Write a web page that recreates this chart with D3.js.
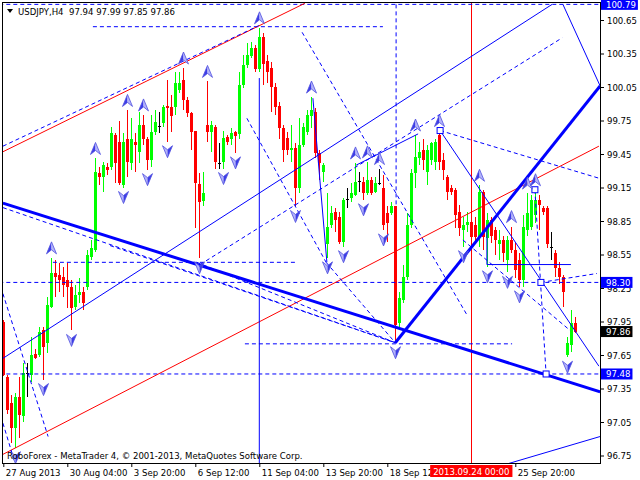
<!DOCTYPE html>
<html><head><meta charset="utf-8">
<script src="https://cdn.jsdelivr.net/npm/d3@7"></script>
<style>
body{margin:0;background:#fff;}
svg{display:block;}
text{font-family:"DejaVu Sans Condensed","Liberation Sans",sans-serif;font-size:9.5px;white-space:pre;}
</style></head><body>
<svg id="c" width="640" height="480"></svg>
<script>
// ---------- DATA ----------
const symbolTitle = "USDJPY,H4  97.94 97.99 97.85 97.86";
const copyright = "RoboForex - MetaTrader 4, \u00a9 2001-2013, MetaQuotes Software Corp.";
const opens = [97.95,97.45,97.22,97.00,97.27,97.10,97.49,97.47,97.66,97.65,
97.87,97.76,98.08,98.38,98.37,98.35,98.32,98.26,98.08,98.19,
98.21,98.26,98.53,98.59,99.28,99.24,99.33,99.33,99.62,99.56,
99.17,99.58,99.37,99.56,99.47,99.71,99.58,99.40,99.65,99.70,
99.73,99.88,99.87,99.87,100.02,100.11,99.93,99.82,99.66,99.18,
99.03,99.71,99.65,99.69,99.37,99.38,99.60,99.58,99.65,99.63,
100.07,100.25,100.33,100.40,100.21,100.50,100.28,100.22,100.05,99.88,
99.68,99.59,99.49,99.50,99.15,99.53,99.65,99.79,99.83,99.46,
99.29,98.64,98.81,98.93,98.89,98.66,99.05,99.06,99.08,99.21,
99.20,99.10,99.22,99.11,99.19,99.15,98.92,98.92,98.98,97.94,
98.14,98.35,98.81,99.28,99.41,99.49,99.29,99.40,99.38,99.62,
99.40,99.24,99.15,99.13,98.93,98.77,98.81,98.84,98.81,98.71,
99.11,98.70,98.86,98.77,98.64,98.68,98.50,98.68,98.59,98.50,
98.32,98.77,98.80,98.90,99.04,98.97,98.97,98.62,98.56,98.43,
98.35,97.65,97.74,97.94];
const highs = [97.96,97.47,97.29,97.31,97.45,97.58,97.58,97.81,97.70,97.90,
97.90,98.17,98.52,98.50,98.47,98.44,98.47,98.32,98.28,98.34,
98.26,98.59,98.68,99.41,99.33,99.38,99.37,99.69,99.64,99.75,
99.64,99.84,99.77,99.64,99.83,99.80,99.60,99.80,99.84,99.83,
99.89,100.11,99.98,100.18,100.18,100.22,99.96,99.83,99.66,99.28,
99.29,100.10,99.75,99.71,99.55,99.66,99.62,99.68,99.66,100.18,
100.34,100.44,100.45,100.43,100.58,100.53,100.34,100.27,100.09,99.92,
99.71,99.65,99.71,99.55,99.77,99.73,99.84,99.96,99.86,99.49,
99.37,99.10,98.98,98.97,98.93,99.06,99.15,99.19,99.37,99.29,
99.24,99.38,99.24,99.24,99.32,99.26,98.98,99.02,98.98,98.21,
98.46,98.92,99.32,99.62,99.56,99.58,99.53,99.56,99.58,99.66,
99.46,99.26,99.17,99.15,98.99,98.89,98.93,98.90,98.89,99.17,
99.13,98.92,98.89,98.80,98.77,98.72,98.72,98.80,98.65,98.56,
98.90,99.10,99.08,99.13,99.08,98.98,98.98,98.75,98.59,98.48,
98.37,97.81,98.05,97.99];
const lows = [97.46,97.12,96.86,96.82,96.91,97.05,97.27,97.41,97.61,97.63,
97.43,97.67,98.07,98.17,98.21,98.17,98.07,97.87,98.05,98.12,
98.05,98.23,98.50,98.57,99.17,99.11,99.26,99.31,99.19,99.17,
99.15,99.24,99.31,99.29,99.37,99.53,99.31,99.33,99.62,99.64,
99.69,99.56,99.65,99.80,100.00,99.84,99.78,99.49,98.79,98.52,
98.98,99.56,99.47,99.32,99.32,99.32,99.53,99.53,99.46,99.58,
100.04,100.22,100.31,100.18,100.18,100.07,100.09,99.83,99.80,99.58,
99.38,99.44,99.38,98.98,99.10,99.51,99.62,99.68,99.41,99.22,
99.20,98.52,98.79,98.75,98.64,98.62,98.97,99.02,99.07,99.11,
99.04,99.08,99.08,99.10,99.17,98.77,98.66,98.90,97.76,97.89,
98.12,98.32,98.79,99.15,99.35,99.31,99.17,99.35,99.31,99.31,
99.22,99.04,99.08,98.79,98.72,98.62,98.75,98.68,98.65,98.62,
98.59,98.44,98.65,98.55,98.50,98.48,98.39,98.56,98.34,98.26,
98.26,98.72,98.77,98.83,98.77,98.90,98.61,98.50,98.35,98.29,
98.08,97.63,97.68,97.85];
const closes = [97.47,97.16,97.00,97.27,97.11,97.49,97.49,97.65,97.62,97.86,
97.72,98.10,98.38,98.35,98.32,98.28,98.26,98.07,98.19,98.21,
98.12,98.55,98.61,99.29,99.24,99.35,99.31,99.64,99.37,99.19,
99.56,99.38,99.58,99.53,99.71,99.58,99.40,99.65,99.74,99.70,
99.87,99.86,99.79,100.09,100.09,99.93,99.82,99.65,99.19,99.02,
99.10,99.65,99.71,99.38,99.37,99.59,99.56,99.64,99.61,100.07,
100.25,100.34,100.40,100.21,100.50,100.26,100.18,100.05,99.87,99.68,
99.49,99.49,99.50,99.15,99.53,99.69,99.80,99.84,99.46,99.37,
99.35,98.80,98.92,98.86,98.66,99.04,99.05,99.10,99.20,99.21,
99.10,99.22,99.10,99.19,99.19,98.81,98.83,98.98,97.92,98.16,
98.35,98.81,99.28,99.42,99.47,99.40,99.49,99.55,99.56,99.38,
99.31,99.11,99.11,98.90,98.79,98.81,98.84,98.71,98.71,99.11,
98.71,98.86,98.72,98.68,98.68,98.56,98.68,98.59,98.41,98.32,
98.80,98.92,99.04,99.04,98.99,98.93,98.64,98.62,98.43,98.35,
98.21,97.76,97.94,97.86];

const timeTickBars = [0,16,32,48,64,80,96,128];
const timeTickLabels = ["27 Aug 2013","30 Aug 04:00","3 Sep 20:00","6 Sep 12:00","11 Sep 04:00","13 Sep 20:00","18 Sep 12:00","25 Sep 20:00"];
const cursorBar = 117;
const cursorLabel = "2013.09.24 00:00";
const priceTicks = [100.65,100.35,100.05,99.75,99.45,99.15,98.85,98.55,98.25,97.95,97.65,97.35,97.05,96.75];
const levelPrices = [100.79,98.30,97.48];

const upFractalBars = [12,23,31,35,45,51,64,77,88,91,94,103,109,119,127,131,133];
const downFractalBars = [3,10,17,30,36,41,49,55,58,73,81,85,90,95,98,115,121,126,129,141];

// horizontal dashed levels: [price, fromBar, toBar]
const dashedLevels = [[100.79,-1,150],[100.59,22.4,94.9],[98.48,12.4,73.4],[98.30,-1,150],[97.75,60.4,127.2],[97.48,-1,150]];
// trend lines as [[bar, price],[bar, price]]
const redLines = [[[-0.1,99.47],[75.4,100.80]], [[-0.1,96.76],[148.9,99.52]]];
const thickBlueLines = [[[-0.1,99.01],[149.2,97.32]], [[98,97.76],[149.2,100.06]]];
const thinBlueLines = [
 [[-0.1,97.62],[137.2,100.79]],
 [[139.9,100.79],[149.2,100.06]],
 [[88.2,99.35],[103.7,99.63]],
 [[77.4,99.95],[80.9,98.48]],
 [[109.2,99.66],[148.9,97.55]],
 [[100,96.40],[149.2,96.92]],
 [[120.9,98.46],[141.9,98.46]],
 [[120.9,98.46],[120.9,98.81]],
 [[64,100.13],[64,96.5]]
];
const dashedBlueLines = [
 [[-0.1,99.52],[63.9,100.60]],
 [[74.7,100.54],[115.9,98.01]],
 [[60.9,99.77],[80.7,98.48]],
 [[80.7,98.48],[98,97.76]],
 [[-0.1,98.97],[98,97.76]],
 [[26.7,98.63],[98,97.76]],
 [[48.4,98.48],[98,97.76]],
 [[49.2,98.46],[139.7,100.49]],
 [[109.2,99.66],[149.2,99.23]],
 [[134.4,98.30],[148.4,98.38]],
 [[114.9,98.68],[141.7,97.87]],
 [[132.9,99.13],[135.7,97.48]],
 [[-0.1,98.20],[11.2,96.92]],
 [[-0.1,97.04],[2.7,96.71]],
 [[98.2,100.79],[98.2,98.99]]
];
const squarePoints = [[109.2,99.66],[132.9,99.13],[134.4,98.30],[135.7,97.48]];

// ---------- CHART ----------
const x = d3.scaleLinear().domain([0,149]).range([3.3,599.3]);
const y = d3.scaleLinear().domain([96.75,100.65]).range([455.5,20]);
const svg = d3.select('#c');
svg.append('rect').attr('width',640).attr('height',480).attr('fill','#fff');
const defs = svg.append('defs');
defs.append('clipPath').attr('id','clip').append('rect')
  .attr('x',2).attr('y',2).attr('width',598).attr('height',461);
const g = svg.append('g').attr('clip-path','url(#clip)');

const bars = opens.map((o,i)=>({i,o,h:highs[i],l:lows[i],c:closes[i]}));
const colorOf = d => d.c>d.o ? '#00ff00' : (d.c<d.o ? '#ff0000' : '#000000');
const cx = d => Math.round(x(d.i));
const cg = g.append('g').attr('shape-rendering','crispEdges');
cg.selectAll('line').data(bars).join('line')
  .attr('x1',d=>cx(d)+0.5).attr('x2',d=>cx(d)+0.5)
  .attr('y1',d=>y(d.h)).attr('y2',d=>y(d.l))
  .attr('stroke',colorOf).attr('stroke-width',1);
cg.selectAll('rect').data(bars).join('rect')
  .attr('x',d=>cx(d)-1).attr('width',3)
  .attr('y',d=>Math.min(y(d.o),y(d.c)))
  .attr('height',d=>Math.max(1,Math.abs(y(d.o)-y(d.c))))
  .attr('fill',colorOf);

const lineGen = d3.line().x(d=>x(d[0])).y(d=>y(d[1]));
function drawLines(arr, stroke, width, dash){
  g.append('g').selectAll('path').data(arr).join('path')
    .attr('d',lineGen).attr('fill','none')
    .attr('stroke',stroke).attr('stroke-width',width)
    .attr('stroke-dasharray',dash||null);
}
// cursor vertical line (red)
g.append('line').attr('x1',Math.round(x(cursorBar))+0.5).attr('x2',Math.round(x(cursorBar))+0.5)
  .attr('y1',2).attr('y2',463).attr('stroke','#ff0000').attr('stroke-width',1);
drawLines(dashedLevels.map(d=>[[d[1],d[0]],[d[2],d[0]]]),'#0000ff',1,'4,3');
drawLines(redLines,'#ff0000',1);
drawLines(dashedBlueLines,'#0000ff',1,'4,3');
drawLines(thinBlueLines,'#0000ff',1);
drawLines(thickBlueLines,'#0000ff',3);

// squares
g.append('g').selectAll('rect').data(squarePoints).join('rect')
  .attr('x',d=>x(d[0])-3).attr('y',d=>y(d[1])-3).attr('width',6).attr('height',6)
  .attr('fill','#fff').attr('stroke','#0000ff').attr('stroke-width',1);

// fractal arrows
const up = g.append('g').selectAll('g').data(upFractalBars).join('g')
  .attr('transform',i=>`translate(${Math.round(x(i))+0.5},${y(highs[i])-10})`);
up.append('path').attr('d','M0,-6 L-5,6 L0,2 Z').attr('fill','#3c3ce6');
up.append('path').attr('d','M0,-6 L5,6 L0,2 Z').attr('fill','#b4b4fa');
up.append('path').attr('d','M0,-6 L5,6 L0,2 L-5,6 Z').attr('fill','none').attr('stroke','#5050e0').attr('stroke-width',0.8);
const dn = g.append('g').selectAll('g').data(downFractalBars).join('g')
  .attr('transform',i=>`translate(${Math.round(x(i))+0.5},${y(lows[i])+10})`);
dn.append('path').attr('d','M0,6 L-5,-6 L0,-2 Z').attr('fill','#b4b4fa');
dn.append('path').attr('d','M0,6 L5,-6 L0,-2 Z').attr('fill','#3c3ce6');
dn.append('path').attr('d','M0,6 L5,-6 L0,-2 L-5,-6 Z').attr('fill','none').attr('stroke','#5050e0').attr('stroke-width',0.8);

// frame
svg.append('rect').attr('x',2.5).attr('y',2.5).attr('width',597.5).attr('height',460.5)
  .attr('fill','none').attr('stroke','#000').attr('stroke-width',1).attr('shape-rendering','crispEdges');

// right price axis
const ya = svg.append('g').attr('transform','translate(600,0)')
  .call(d3.axisRight(y).tickValues(priceTicks).tickSize(4).tickPadding(3).tickFormat(d3.format('.2f')));
ya.select('.domain').remove();
ya.selectAll('text').attr('fill','#000').attr('font-size',null).attr('font-family',null);
ya.selectAll('line').attr('stroke','#000');

// bottom time axis
const cursorX = x(cursorBar);
const xa = svg.append('g').attr('transform','translate(0,463)')
  .call(d3.axisBottom(x).tickValues(timeTickBars).tickSize(4).tickPadding(2).tickFormat((d,i)=>timeTickLabels[i]));
xa.select('.domain').remove();
xa.selectAll('text').attr('text-anchor','start').attr('x',2).attr('fill','#000').attr('font-size',null).attr('font-family',null);
xa.selectAll('line').attr('stroke','#000');

// cursor time label box (covers part of the previous label, as in the terminal)
const cl = svg.append('g');
const ct = cl.append('text').attr('x',cursorX).attr('y',475).attr('text-anchor','middle').attr('fill','#fff').text(cursorLabel);
const cb = ct.node().getBBox();
const boxX = cb.x-3;
cl.insert('rect','text').attr('x',boxX).attr('y',465).attr('width',cb.width+6).attr('height',12).attr('fill','#ff0000');
// clip labels that run under the box
xa.selectAll('.tick').filter(d=>d<cursorBar && x(d)+70>boxX).each(function(d){
  const id='cl'+d;
  defs.append('clipPath').attr('id',id).append('rect')
    .attr('x',-10).attr('y',-2).attr('width',boxX-x(d)+10).attr('height',20);
  d3.select(this).select('text').attr('clip-path',`url(#${id})`);
});

// price level boxes
function priceBox(p, bg){
  const gg = svg.append('g');
  const t = gg.append('text').attr('x',606).attr('y',y(p)).attr('dy','0.35em').attr('fill','#fff').text(p.toFixed(2));
  const b = t.node().getBBox();
  gg.insert('rect','text').attr('x',601).attr('y',y(p)-5.5).attr('width',b.width+7).attr('height',11).attr('fill',bg);
}
levelPrices.forEach(p=>priceBox(p,'#0000ff'));
priceBox(closes[closes.length-1],'#000000');

// title
svg.append('path').attr('d','M7,9 L13,9 L10,13 Z').attr('fill','#000');
svg.append('text').attr('x',18).attr('y',15).attr('fill','#000').text(symbolTitle);
// copyright
svg.append('text').attr('x',7).attr('y',459).attr('fill','#000').text(copyright);
</script>
</body></html>
